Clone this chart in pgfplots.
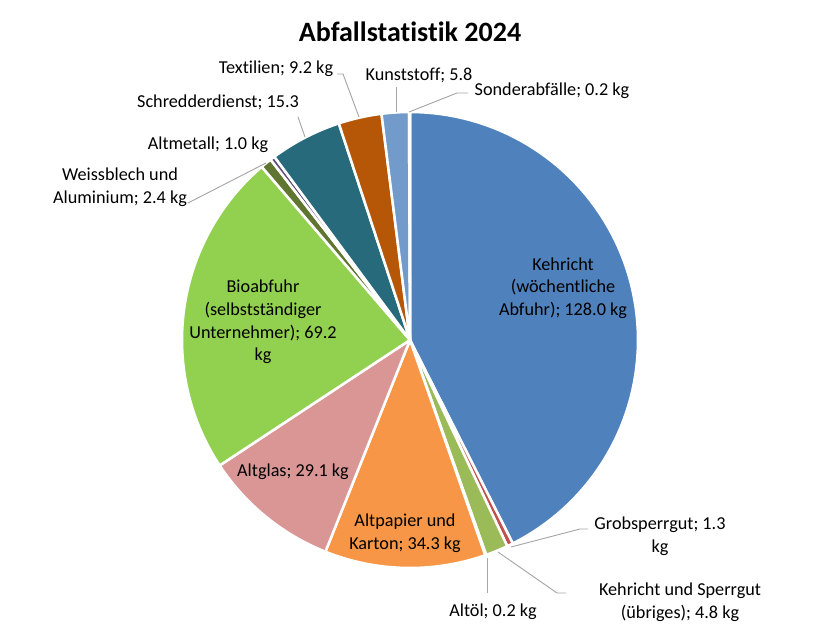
\documentclass[border=0pt]{standalone}
\usepackage{pgfplots}
\usepackage{pgfplotstable}
\pgfplotsset{compat=1.18}
\usepackage{fontspec}
\setmainfont{Carlito}[Ligatures=NoCommon]

% slice colours
\definecolor{cKeh}{HTML}{4F81BD}
\definecolor{cGrob}{HTML}{C0504D}
\definecolor{cKuS}{HTML}{9BBB59}
\definecolor{cOel}{HTML}{8064A2}
\definecolor{cPap}{HTML}{F79646}
\definecolor{cGlas}{HTML}{D99694}
\definecolor{cBio}{HTML}{92D050}
\definecolor{cWeiss}{HTML}{5F7530}
\definecolor{cMet}{HTML}{5F4B7B}
\definecolor{cSchr}{HTML}{276A7C}
\definecolor{cTex}{HTML}{B65708}
\definecolor{cKun}{HTML}{729ACA}
\definecolor{cSon}{HTML}{4BACC6}
\definecolor{leader}{HTML}{A6A6A6}

\tikzset{lbl/.style={font=\fontsize{13.65}{17}\selectfont, align=center, inner sep=0pt}}

% waste per inhabitant in kg, clockwise from 12 o'clock
\pgfplotstableread{
value color
128.0 cKeh
1.3   cGrob
4.8   cKuS
0.2   cOel
34.3  cPap
29.1  cGlas
69.2  cBio
2.4   cWeiss
1.0   cMet
15.3  cSchr
9.2   cTex
5.8   cKun
0.2   cSon
}\waste

\begin{document}
\begin{tikzpicture}
	\pgfplotstablegetrowsof{\waste}
	\pgfmathtruncatemacro\nlast{\pgfplotsretval-1}
	% total
	\gdef\tot{0}
	\foreach \i in {0,...,\nlast}{
		\pgfplotstablegetelem{\i}{value}\of\waste
		\pgfmathsetmacro\t{\tot+\pgfplotsretval}
		\xdef\tot{\t}
	}
	\pgfmathsetmacro\dpu{360/\tot}% degrees per kg
	\xdef\dpu{\dpu}
	\def\cx{410}\def\cy{289}\def\R{228}
	\begin{axis}[
		scale only axis,
		width=615pt, height=471.75pt,
		xmin=0, xmax=820, ymin=0, ymax=629,
		hide axis, clip=false,
		]
		% slices
		\gdef\acc{0}
		\foreach \i in {0,...,\nlast}{
			\pgfplotstablegetelem{\i}{value}\of\waste \let\v=\pgfplotsretval
			\pgfplotstablegetelem{\i}{color}\of\waste \let\c=\pgfplotsretval
			\pgfmathsetmacro\aS{90-\dpu*\acc}
			\pgfmathsetmacro\aE{90-\dpu*(\acc+\v)}
			\pgfmathsetmacro\nacc{\acc+\v}\xdef\acc{\nacc}
			\edef\temp{\noexpand\addplot[fill=\c, draw=white, line width=1.9pt,
				line join=round, domain=\aE:\aS, samples=80]
				({\cx+\R*cos(x)}, {\cy+\R*sin(x)}) -- (axis cs:\cx,\cy) -- cycle;}
			\temp
		}
		
		% leader lines
		\addplot[leader, line width=0.7pt] coordinates {(337,555) (343,555) (359,512)};
		\addplot[leader, line width=0.7pt] coordinates {(396,542) (396,517)};
		\addplot[leader, line width=0.7pt] coordinates {(468,536) (457,536) (409,517)};
		\addplot[leader, line width=0.7pt] coordinates {(298,512) (305,492)};
		\addplot[leader, line width=0.7pt] coordinates {(188,426) (266,466)};
		\addplot[leader, line width=0.7pt] coordinates {(511,82) (580,100) (588,100)};
		\addplot[leader, line width=0.7pt] coordinates {(498,77) (557,36) (566,36)};
		\addplot[leader, line width=0.7pt] coordinates {(487,71) (487,36)};
		
		% title
		\node[font=\fontsize{21}{25}\selectfont\bfseries, inner sep=0pt] at (axis cs:410,597) {Abfallstatistik 2024};
		
		% data labels
		\node[lbl] at (axis cs:276,560) {Textilien; 9.2 kg};
		\node[lbl] at (axis cs:419,554) {Kunststoff; 5.8};
		\node[lbl] at (axis cs:552,538) {Sonderabfälle; 0.2 kg};
		\node[lbl] at (axis cs:218,527) {Schredderdienst; 15.3};
		\node[lbl] at (axis cs:208,484) {Altmetall; 1.0 kg};
		\node[lbl] at (axis cs:120,442) {Weissblech und\\Aluminium; 2.4 kg};
		\node[lbl] at (axis cs:263,307) {Bioabfuhr\\(selbstständiger\\Unternehmer); 69.2\\kg};
		\node[lbl] at (axis cs:563,341) {Kehricht\\(wöchentliche\\Abfuhr); 128.0 kg};
		\node[lbl] at (axis cs:293,157) {Altglas; 29.1 kg};
		\node[lbl] at (axis cs:405,96) {Altpapier und\\Karton; 34.3 kg};
		\node[lbl] at (axis cs:660,93) {Grobsperrgut; 1.3\\kg};
		\node[lbl] at (axis cs:680,27) {Kehricht und Sperrgut\\(übriges); 4.8 kg};
		\node[lbl] at (axis cs:493,17) {Altöl; 0.2 kg};
	\end{axis}
	\pgfresetboundingbox
	\path (0,0) rectangle (615pt,471.75pt);
\end{tikzpicture}
\end{document}
